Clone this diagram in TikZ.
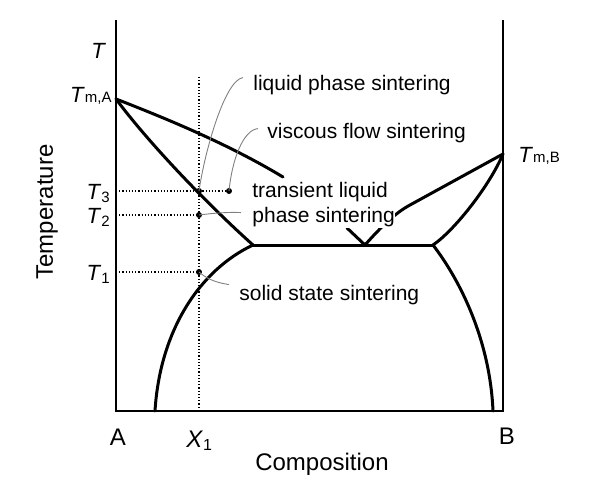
\documentclass[tikz,border=0pt]{standalone}
\usepackage{fontspec}
\setmainfont{Liberation Sans}
\begin{document}
\begin{tikzpicture}[x=0.5pt,y=-0.5pt,
		phase/.style={line width=1.5pt,line cap=round,line join=round},
		guide/.style={densely dotted,line width=0.6pt},
		leader/.style={gray,line width=0.45pt},
		lbl/.style={font=\fontsize{10.5}{12}\selectfont,inner sep=0pt,anchor=base west},
		sym/.style={font=\fontsize{11}{12}\selectfont,inner sep=0pt},
		axlbl/.style={font=\fontsize{12}{14}\selectfont,inner sep=0pt}]
		\useasboundingbox (0,0) rectangle (591,483);
		
		% frame
		\draw[line width=1pt] (116,20) -- (116,411) -- (503,411) -- (503,20);
		
		% key points
		\coordinate (TmA) at (116,99);
		\coordinate (TmB) at (503,154);
		\coordinate (E1) at (253,245);
		\coordinate (E2) at (433,245);
		\coordinate (V) at (365,245);
		
		% phase boundaries
		\draw[phase] (TmA) .. controls (170,120) and (230,145) .. (283,177);
		\draw[phase] (TmA) .. controls (148,142) and (205,202) .. (E1);
		\draw[phase] (E1) -- (E2);
		\draw[phase] (E1) .. controls (200,270) and (160,330) .. (155,411);
		\draw[phase] (E2) .. controls (460,280) and (490,340) .. (493,411);
		\draw[phase] (E2) .. controls (455,230) and (490,185) .. (TmB);
		\draw[phase] (347,228) -- (V) .. controls (380,228) and (395,213) .. (410,205) -- (TmB);
		
		% X1 and temperature guides
		\coordinate (pLPS) at (199,191);
		\coordinate (pVFS) at (229,191);
		\coordinate (pTLPS) at (199,215);
		\coordinate (pSSS) at (199,272);
		\draw[guide] (199,77) -- (199,411);
		\draw[guide] (116,191) -- (pVFS);
		\draw[guide] (116,215) -- (pTLPS);
		\draw[guide] (116,272) -- (pSSS);
		\foreach \p in {pLPS,pVFS,pTLPS,pSSS}
			\fill (\p) circle (3);
		
		% labels
		\node[lbl] (lps) at (253,90) {liquid phase sintering};
		\node[lbl] (vfs) at (267,138) {viscous flow sintering};
		\node[lbl] (tl1) at (252,197) {transient liquid};
		\node[lbl,fill=white,inner xsep=0pt,inner ysep=1pt] (tl2) at (252,222) {phase sintering};
		\node[lbl] (sss) at (239,300) {solid state sintering};
		
		\draw[leader] ([shift={(-10,-7)}]lps.west) .. controls (225,80) and (205,150) .. (pLPS);
		\draw[leader] ([shift={(-9,-4)}]vfs.west) .. controls (243,130) and (232,160) .. (pVFS);
		\draw[leader] ([shift={(-11,-4)}]tl2.west) .. controls (228,212) and (215,213) .. (pTLPS);
		\draw[leader] ([shift={(-10,-10)}]sss.west) .. controls (212,282) and (205,277) .. (pSSS);
		
		% axis symbols
		\node[sym,anchor=base] (T) at (98,58) {\itshape T};
		\node[sym,anchor=base east] (TmAl) at (112,102) {\itshape T\/\upshape\fontsize{7.5}{9}\selectfont m,A};
		\node[sym,anchor=base west] (TmBl) at (518,162) {\itshape T\/\upshape\fontsize{7.5}{9}\selectfont m,B};
		\node[sym,anchor=base east] (T3) at (110,199) {\itshape T\/\upshape\raisebox{-0.3ex}{\fontsize{7.5}{9}\selectfont 3}};
		\node[sym,anchor=base east] (T2) at (110,223) {\itshape T\/\upshape\raisebox{-0.3ex}{\fontsize{7.5}{9}\selectfont 2}};
		\node[sym,anchor=base east] (T1) at (110,280) {\itshape T\/\upshape\raisebox{-0.3ex}{\fontsize{7.5}{9}\selectfont 1}};
		\node[axlbl,anchor=base west] (X1) at (186,447) {\itshape X\/\upshape\raisebox{-0.3ex}{\fontsize{8}{9}\selectfont 1}};
		\node[axlbl,anchor=base] (A) at (118,445) {A};
		\node[axlbl,anchor=base] (B) at (507,444) {B};
		
		% axis titles
		\node[axlbl,anchor=base] (comp) at (322,470) {Composition};
		\node[axlbl,rotate=90] (temp) at (47,212) {Temperature};
	\end{tikzpicture}
\end{document}
